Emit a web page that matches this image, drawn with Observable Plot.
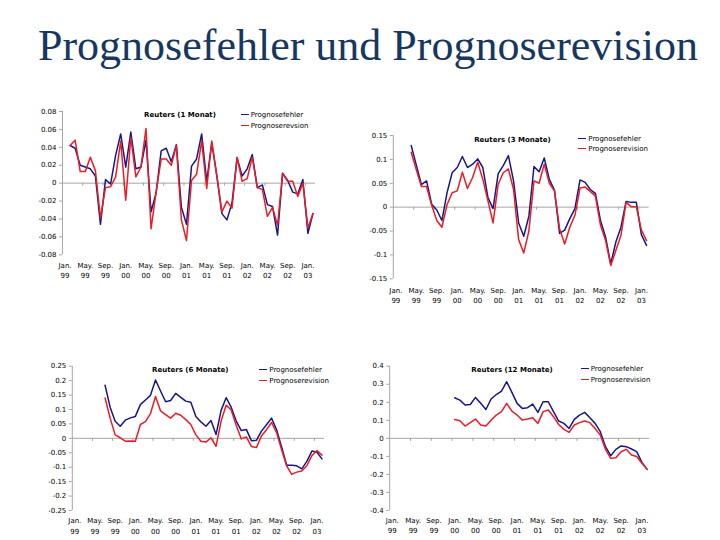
<!DOCTYPE html>
<html><head><meta charset="utf-8">
<script src="https://cdn.jsdelivr.net/npm/d3@7"></script>
<script src="https://cdn.jsdelivr.net/npm/@observablehq/plot@0.6"></script>
<style>
body{margin:0;background:#fff;}
#page{position:relative;width:720px;height:540px;overflow:hidden;background:#fff;font-family:"DejaVu Sans",sans-serif;}
.title{position:absolute;left:38px;top:24px;font-family:"Liberation Serif","Times New Roman",serif;font-size:44px;line-height:44px;color:#17375e;white-space:nowrap;}
.ptitle{position:absolute;font-weight:bold;font-size:7px;line-height:8px;transform:translate(-50%,-50%);white-space:nowrap;color:#000;}
.leg{position:absolute;font-size:7px;line-height:8px;white-space:nowrap;transform:translateY(-50%);color:#000;}
.sw{position:absolute;height:0;border-top:1.5px solid;}
.panel{position:absolute;}
</style></head>
<body>
<div id="page">
  <div class="title">Prognosefehler und Prognoserevision</div>
</div>
<script>
// ---- axis labels ----
const monthLabels = ["Jan.","May.","Sep.","Jan.","May.","Sep.","Jan.","May.","Sep.","Jan.","May.","Sep.","Jan."];
const yearLabels  = ["99","99","99","00","00","00","01","01","01","02","02","02","03"];
const seriesNames = ["Prognosefehler", "Prognoserevision"];

// ---- Reuters (1 Monat): first value Feb 99 (month index 1) ----
const start1 = 1;
const fehler1 = [0.042,0.039,0.020,0.018,0.016,0.008,-0.046,0.004,-0.001,0.031,0.055,0.018,0.057,0.016,0.018,0.048,-0.032,-0.011,0.036,0.039,0.024,0.043,-0.027,-0.046,0.019,0.027,0.055,0.002,0.045,0.008,-0.034,-0.041,-0.022,0.028,0.008,0.016,0.032,-0.005,-0.002,-0.024,-0.026,-0.058,0.011,0.003,-0.010,-0.012,0.004,-0.056,-0.034];
const revision1 = [0.042,0.048,0.013,0.013,0.029,0.014,-0.039,-0.005,-0.004,0.007,0.047,-0.019,0.051,0.007,0.018,0.061,-0.051,-0.010,0.027,0.027,0.020,0.042,-0.041,-0.064,0.003,0.010,0.047,-0.006,0.047,0.008,-0.032,-0.020,-0.028,0.029,0.002,0.005,0.029,-0.005,-0.007,-0.037,-0.027,-0.047,0.011,0.002,0.002,-0.015,0.000,-0.050,-0.034];
const yTicks1 = [-0.08,-0.06,-0.04,-0.02,0,0.02,0.04,0.06,0.08];

// ---- Reuters (3 Monate): first value Apr 99 ----
const start2 = 3;
const fehler2 = [0.129,0.088,0.047,0.055,0.006,-0.006,-0.028,0.030,0.072,0.083,0.106,0.083,0.090,0.101,0.083,0.020,-0.003,0.070,0.087,0.108,0.055,-0.033,-0.061,-0.019,0.085,0.074,0.103,0.058,0.036,-0.055,-0.048,-0.024,-0.003,0.057,0.052,0.037,0.029,-0.028,-0.063,-0.119,-0.073,-0.042,0.012,0.010,0.010,-0.058,-0.080];
const revision2 = [0.115,0.078,0.043,0.043,0.004,-0.028,-0.042,0.005,0.030,0.034,0.073,0.039,0.062,0.094,0.058,0.013,-0.033,0.048,0.072,0.080,0.037,-0.068,-0.096,-0.050,0.055,0.050,0.090,0.050,0.034,-0.045,-0.077,-0.042,-0.017,0.040,0.042,0.033,0.023,-0.038,-0.070,-0.122,-0.091,-0.059,0.010,0.001,0.001,-0.048,-0.070];
const yTicks2 = [-0.15,-0.1,-0.05,0,0.05,0.1,0.15];

// ---- Reuters (6 Monate): first value Jul 99 ----
const start3 = 6;
const fehler3 = [0.184,0.108,0.059,0.042,0.063,0.071,0.076,0.117,0.133,0.149,0.202,0.164,0.127,0.131,0.156,0.142,0.129,0.125,0.076,0.057,0.042,0.062,0.013,0.097,0.141,0.108,0.060,0.027,0.031,-0.008,-0.007,0.025,0.047,0.070,0.030,-0.030,-0.093,-0.093,-0.095,-0.106,-0.080,-0.044,-0.048,-0.071];
const revision3 = [0.140,0.070,0.012,0.002,-0.010,-0.009,-0.010,0.048,0.058,0.086,0.145,0.095,0.082,0.070,0.087,0.080,0.065,0.048,0.012,-0.010,-0.013,0.002,-0.028,0.060,0.115,0.098,0.045,-0.002,0.005,-0.028,-0.032,0.008,0.030,0.055,0.020,-0.040,-0.095,-0.125,-0.117,-0.113,-0.095,-0.060,-0.042,-0.058];
const yTicks3 = [-0.25,-0.2,-0.15,-0.1,-0.05,0,0.05,0.1,0.15,0.2,0.25];

// ---- Reuters (12 Monate): first value Jan 00 ----
const start4 = 12;
const fehler4 = [0.225,0.212,0.185,0.188,0.227,0.194,0.160,0.218,0.243,0.262,0.314,0.255,0.194,0.166,0.170,0.190,0.144,0.203,0.203,0.148,0.096,0.083,0.055,0.105,0.129,0.144,0.114,0.083,0.037,-0.046,-0.096,-0.061,-0.042,-0.046,-0.059,-0.074,-0.133,-0.172];
const revision4 = [0.105,0.098,0.068,0.087,0.107,0.074,0.068,0.101,0.129,0.148,0.194,0.151,0.129,0.101,0.107,0.114,0.083,0.148,0.157,0.120,0.077,0.050,0.033,0.074,0.087,0.096,0.087,0.055,0.018,-0.061,-0.111,-0.107,-0.074,-0.061,-0.092,-0.101,-0.138,-0.172];
const yTicks4 = [-0.4,-0.3,-0.2,-0.1,0,0.1,0.2,0.3,0.4];

const BLUE = "#17178a", RED = "#ec1c24", GREY = "#a6a6a6";
const nMonths = 50; // Jan 99 .. Feb 03 category slots

const panels = [
  {title:"Reuters (1 Monat)", names:["Prognosefehler","Prognoserevsion"], start:start1, blue:fehler1, red:revision1, yTicks:yTicks1,
   left:0, top:100, width:330, height:185, mL:62, mR:15, mT:11, mB:30.7,
   titleX:180, titleY:114.7, legX:240.7, legY:[115,126], lab:[11.4,20.7]},
  {title:"Reuters (3 Monate)", names:seriesNames, start:start2, blue:fehler2, red:revision2, yTicks:yTicks2,
   left:340, top:125, width:320, height:185, mL:52.8, mR:11.4, mT:10, mB:31.7,
   titleX:512.5, titleY:139.7, legX:578.3, legY:[138.5,149], lab:[12.4,21.7]},
  {title:"Reuters (6 Monate)", names:seriesNames, start:start3, blue:fehler3, red:revision3, yTicks:yTicks3,
   left:0, top:355, width:340, height:185, mL:71.8, mR:16, mT:10.7, mB:30,
   titleX:190.3, titleY:369.7, legX:259.3, legY:[369.7,380.7], lab:[10.7,21.2]},
  {title:"Reuters (12 Monate)", names:seriesNames, start:start4, blue:fehler4, red:revision4, yTicks:yTicks4,
   left:340, top:355, width:320, height:185, mL:49.2, mR:10.8, mT:10.7, mB:30,
   titleX:512, titleY:369.7, legX:580.7, legY:[369.2,379.5], lab:[10.7,20.7]}
];

const fmt = d => d === 0 ? "0" : String(+d.toFixed(2));
const page = document.getElementById("page");
const labelPos = monthLabels.map((_, i) => 4 * i);
const catTicks = d3.range(3.5, 48, 4);

for (const p of panels) {
  const blueData = p.blue.map((v, i) => ({m: p.start + i, v}));
  const redData = p.red.map((v, i) => ({m: p.start + i, v}));
  const yDom = d3.extent(p.yTicks);
  const chart = Plot.plot({
    width: p.width, height: p.height,
    marginLeft: p.mL, marginRight: p.mR, marginTop: p.mT, marginBottom: p.mB,
    style: {fontFamily: "DejaVu Sans, sans-serif", fontSize: "7px", color: "#000", background: "transparent", overflow: "visible"},
    x: {domain: [-0.5, nMonths - 0.5], axis: null},
    y: {domain: yDom},
    marks: [
      Plot.ruleX([-0.5], {stroke: GREY}),
      Plot.ruleY([0], {stroke: GREY}),
      Plot.ruleX(catTicks, {x: d => d, y1: 0, y2: 0, insetBottom: -3, stroke: GREY}),
      Plot.axisY(p.yTicks, {tickSize: 3, tickPadding: 3, stroke: GREY, tickFormat: fmt, fontSize: 7, label: null}),
      Plot.line(blueData, {x: "m", y: "v", stroke: BLUE, strokeWidth: 1.5}),
      Plot.line(redData, {x: "m", y: "v", stroke: RED, strokeWidth: 1.5}),
      Plot.text(monthLabels, {x: (d, i) => labelPos[i], text: d => d, frameAnchor: "bottom", dy: p.lab[0], lineAnchor: "middle", fill: "#000"}),
      Plot.text(yearLabels, {x: (d, i) => labelPos[i], text: d => d, frameAnchor: "bottom", dy: p.lab[1], lineAnchor: "middle", fill: "#000"})
    ]
  });
  const wrap = document.createElement("div");
  wrap.className = "panel";
  wrap.style.left = p.left + "px";
  wrap.style.top = p.top + "px";
  wrap.appendChild(chart);
  page.appendChild(wrap);

  const t = document.createElement("div");
  t.className = "ptitle";
  t.style.left = p.titleX + "px";
  t.style.top = p.titleY + "px";
  t.textContent = p.title;
  page.appendChild(t);

  [BLUE, RED].forEach((c, k) => {
    const sw = document.createElement("div");
    sw.className = "sw";
    sw.style.left = p.legX + "px";
    sw.style.width = "8px";
    sw.style.top = (p.legY[k] - 0.75) + "px";
    sw.style.borderColor = c;
    page.appendChild(sw);
    const lt = document.createElement("div");
    lt.className = "leg";
    lt.style.left = (p.legX + 10) + "px";
    lt.style.top = p.legY[k] + "px";
    lt.textContent = p.names[k];
    page.appendChild(lt);
  });
}
</script>
</body></html>
